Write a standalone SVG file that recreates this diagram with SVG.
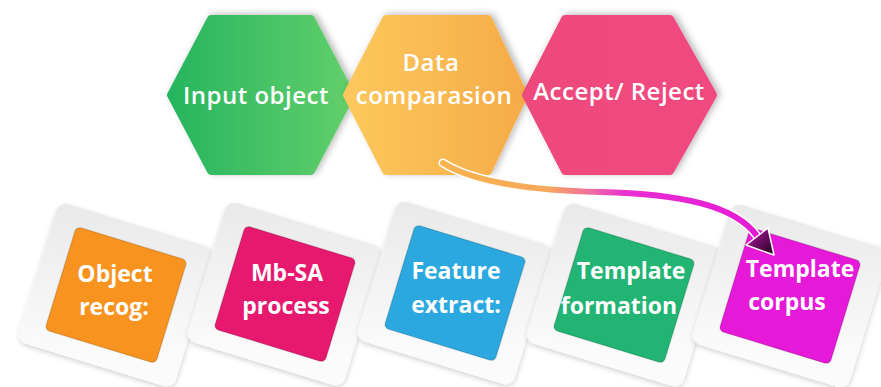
<svg xmlns="http://www.w3.org/2000/svg" width="881" height="387" viewBox="0 0 881 387">
  <style>
    .hex-label { font-family: "Open Sans", "DejaVu Sans", sans-serif; font-weight: 600; font-size: 24px; letter-spacing: 0.5px; fill: #ffffff; text-anchor: middle; }
    .card-label { font-family: "Open Sans", "DejaVu Sans", sans-serif; font-weight: 700; font-size: 23px; fill: #ffffff; text-anchor: middle; }
    .frame { fill: url(#frameFill); filter: url(#frameShadow); }
    .tile { stroke: #000000; stroke-opacity: 0.12; stroke-width: 1.5; }
    .hex { stroke-width: 8; stroke-linejoin: round; filter: url(#hexShadow); }
  </style>
  <defs>
    <linearGradient id="gGreen" x1="0" y1="0" x2="1" y2="0">
      <stop offset="0" stop-color="#27B55F"/>
      <stop offset="1" stop-color="#62CF6B"/>
    </linearGradient>
    <linearGradient id="gOrange" x1="0" y1="0" x2="1" y2="0">
      <stop offset="0" stop-color="#FCC85C"/>
      <stop offset="1" stop-color="#F6AB48"/>
    </linearGradient>
    <linearGradient id="gPink" x1="0" y1="0" x2="1" y2="0">
      <stop offset="0" stop-color="#EE4A7D"/>
      <stop offset="1" stop-color="#F04A80"/>
    </linearGradient>
    <linearGradient id="frameFill" x1="0" y1="0" x2="0.3" y2="1">
      <stop offset="0" stop-color="#E9E9E9"/>
      <stop offset="1" stop-color="#FBFBFB"/>
    </linearGradient>
    <linearGradient id="flowGrad" gradientUnits="userSpaceOnUse" x1="443" y1="0" x2="770" y2="0">
      <stop offset="0" stop-color="#F8B24E"/>
      <stop offset="0.32" stop-color="#F7A85A"/>
      <stop offset="0.46" stop-color="#EF68A6"/>
      <stop offset="0.56" stop-color="#E92ED2"/>
      <stop offset="1" stop-color="#E419D6"/>
    </linearGradient>
    <linearGradient id="headGrad" x1="0" y1="0" x2="1" y2="1">
      <stop offset="0" stop-color="#C21CB0"/>
      <stop offset="1" stop-color="#1A0018"/>
    </linearGradient>
    <filter id="hexShadow" x="-20%" y="-20%" width="140%" height="140%">
      <feDropShadow dx="3" dy="-1" stdDeviation="3.5" flood-color="#000000" flood-opacity="0.28"/>
    </filter>
    <filter id="frameShadow" x="-20%" y="-20%" width="140%" height="140%">
      <feDropShadow dx="1" dy="2" stdDeviation="2.5" flood-color="#000000" flood-opacity="0.18"/>
    </filter>
  </defs>

  <rect width="881" height="387" fill="#ffffff"/>

  <!-- hexagon steps -->
  <g id="hex-input">
    <polygon class="hex" fill="url(#gGreen)" stroke="url(#gGreen)" points="171,95 211,19 311,19 351,95 311,171 211,171"/>
    <text class="hex-label" x="256" y="104">Input object</text>
  </g>
  <g id="hex-compare">
    <polygon class="hex" fill="url(#gOrange)" stroke="url(#gOrange)" points="347,95 386,19 488,19 524,95 488,171 386,171"/>
    <text class="hex-label" x="431" y="71">Data</text>
    <text class="hex-label" x="434" y="104">comparasion</text>
  </g>
  <g id="hex-decision">
    <polygon class="hex" fill="url(#gPink)" stroke="url(#gPink)" points="526,95 565,19 670,19 713,95 670,171 565,171"/>
    <text class="hex-label" x="619" y="100">Accept/ Reject</text>
  </g>

  <!-- tilted process cards -->
  <g id="card-object">
    <g transform="translate(116,295) rotate(17)">
      <rect class="frame" x="-82" y="-73" width="164" height="146" rx="10"/>
      <rect class="tile" x="-58" y="-54" width="116" height="108" rx="5" fill="#F7931E"/>
    </g>
    <text class="card-label" x="115" y="282">Object</text>
    <text class="card-label" x="114" y="315">recog:</text>
  </g>
  <g id="card-mbsa">
    <g transform="translate(285,294) rotate(17)">
      <rect class="frame" x="-82" y="-73" width="164" height="146" rx="10"/>
      <rect class="tile" x="-58" y="-54" width="116" height="108" rx="5" fill="#E6196F"/>
    </g>
    <text class="card-label" x="287" y="281">Mb-SA</text>
    <text class="card-label" x="286" y="314">process</text>
  </g>
  <g id="card-feature">
    <g transform="translate(455,293) rotate(17)">
      <rect class="frame" x="-82" y="-73" width="164" height="146" rx="10"/>
      <rect class="tile" x="-58" y="-54" width="116" height="108" rx="5" fill="#2BA8DF"/>
    </g>
    <text class="card-label" x="456" y="279">Feature</text>
    <text class="card-label" x="456" y="313">extract:</text>
  </g>
  <g id="card-template">
    <g transform="translate(624,295) rotate(17)">
      <rect class="frame" x="-82" y="-73" width="164" height="146" rx="10"/>
      <rect class="tile" x="-58" y="-54" width="116" height="108" rx="5" fill="#22B473"/>
    </g>
    <text class="card-label" x="631" y="279">Template</text>
    <text class="card-label" x="619" y="314">formation</text>
  </g>
  <g id="card-corpus">
    <g transform="translate(790,296) rotate(17)">
      <rect class="frame" x="-82" y="-73" width="164" height="146" rx="10"/>
      <rect class="tile" x="-58" y="-54" width="116" height="108" rx="5" fill="#E519D7"/>
    </g>
    <text class="card-label" x="800" y="277">Template</text>
    <text class="card-label" x="787" y="310">corpus</text>
  </g>

  <!-- connector: comparison feeds the template corpus -->
  <g id="connectors">
    <path d="M443,163 C470,180 520,190 600,192 C680,194 735,205 757,236" fill="none" stroke="#ffffff" stroke-width="9" stroke-linecap="round"/>
    <path d="M443,163 C470,180 520,190 600,192 C680,194 735,205 757,236" fill="none" stroke="url(#flowGrad)" stroke-width="6" stroke-linecap="round"/>
    <polygon points="746,245 768,228 774,255" fill="url(#headGrad)" stroke="#ffffff" stroke-width="1.5" stroke-linejoin="round"/>
  </g>
</svg>
